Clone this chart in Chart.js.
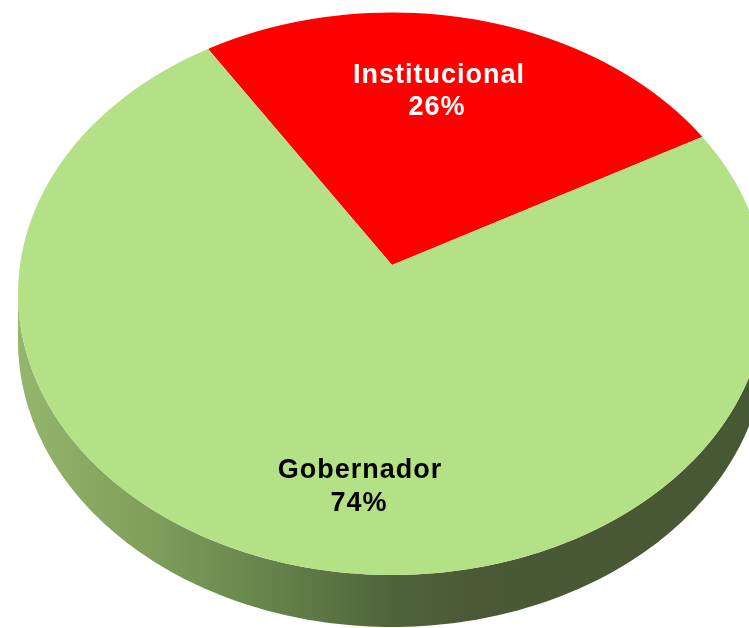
<!DOCTYPE html>
<html>
<head>
<meta charset="utf-8">
<script src="https://cdn.jsdelivr.net/npm/chart.js@4"></script>
<style>
  html, body { margin: 0; padding: 0; background: #ffffff; overflow: hidden; }
  canvas { display: block; }
</style>
</head>
<body>
<canvas id="c" width="749" height="628"></canvas>
<script>
// ---- data ----
const categories = ['Institucional', 'Gobernador'];
const values = [26, 74];
const pctLabels = ['26%', '74%'];

// ---- styles ----
const sliceColors = ['#ff0000', '#b5e186'];
const labelColors = ['#ffffff', '#000000'];

// perspective projection of the pie disc (screen px)
const PX = 392;      // screen x of pie centre
const PY = 265;      // screen y of pie centre
const HW = 372;      // horizontal radius at centre line
const VB = 278.3;    // vertical factor
const PERSP = 0.1022; // perspective strength
const DEPTH0 = 46.7; // side thickness at centre line

function proj(u, v) { // u,v in unit-circle coords (v>0 = near)
  const w = 1 - PERSP * v;
  return [PX + HW * u / w, PY + VB * v / w];
}
function invY(Y) { const d = Y - PY; return d / (VB + PERSP * d); }

function sideFill(ctx, i) {
  const g = ctx.createLinearGradient(PX - HW, 0, PX + HW, 0);
  if (i === 1) {
    g.addColorStop(0, '#94b66c');
    g.addColorStop(0.18, '#7e9e5a');
    g.addColorStop(0.35, '#65804a');
    g.addColorStop(0.5, '#4f643a');
    g.addColorStop(0.62, '#4a5835');
    g.addColorStop(1, '#475834');
  } else {
    g.addColorStop(0, '#c00000');
    g.addColorStop(1, '#800000');
  }
  return g;
}

const pie3d = {
  id: 'pie3d',
  beforeDatasetsDraw(chart) {
    const ctx = chart.ctx;
    const meta = chart.getDatasetMeta(0);
    const a0 = meta.data[0];
    const cx = a0.x, cy = a0.y, R = a0.outerRadius;
    const TAU = Math.PI * 2;
    const t1 = Math.asin(PERSP), t2 = Math.PI - Math.asin(PERSP);
    // side walls (visible near part of the rim)
    meta.data.forEach((arc, i) => {
      let s = arc.startAngle, e = arc.endAngle;
      const off = Math.floor(s / TAU) * TAU;
      s -= off; e -= off;
      [[t1, t2], [TAU + t1, TAU + t2]].forEach(([lo, hi]) => {
        const a = Math.max(s, lo), b = Math.min(e, hi);
        if (b <= a) return;
        const n = 160;
        const top = [], bot = [];
        for (let k = 0; k <= n; k++) {
          const t = a + (b - a) * k / n;
          const u = Math.cos(t), v = Math.sin(t);
          const p = proj(u, v);
          top.push(p);
          bot.push([p[0], p[1] + DEPTH0 / (1 - PERSP * v)]);
        }
        ctx.save();
        ctx.beginPath();
        top.forEach((p, k) => k ? ctx.lineTo(p[0], p[1]) : ctx.moveTo(p[0], p[1]));
        for (let k = n; k >= 0; k--) ctx.lineTo(bot[k][0], bot[k][1]);
        ctx.closePath();
        ctx.fillStyle = sideFill(ctx, i);
        ctx.fill();
        ctx.restore();
      });
    });
    // top face, drawn in thin horizontal strips, each with its own affine map
    const Ytop = Math.floor(proj(0, -1)[1]) - 1;
    const Ybot = Math.ceil(proj(0, 1)[1]) + 1;
    const STEP = 2;
    for (let Y0 = Ytop; Y0 < Ybot; Y0 += STEP) {
      const Y1 = Y0 + STEP;
      const Ym = (Y0 + Y1) / 2;
      const vm = invY(Ym);
      const w = 1 - PERSP * vm;
      const kx = HW / w / R;
      const ky = VB / (w * w) / R;
      const ym = cy + vm * R;
      ctx.save();
      ctx.beginPath();
      ctx.rect(0, Y0, chart.width, STEP);
      ctx.clip();
      ctx.setTransform(kx, 0, 0, ky, PX - kx * cx, Ym - ky * ym);
      meta.data.forEach(arc => arc.draw(ctx));
      ctx.restore();
    }
    return false;
  },
  afterDraw(chart) {
    const ctx = chart.ctx;
    const pos = [[[439, 76], [437, 108]], [[360, 471], [359, 504]]];
    ctx.save();
    ctx.font = 'bold 27px "Liberation Sans", Arial, sans-serif';
    ctx.letterSpacing = '1px';
    ctx.textAlign = 'center';
    ctx.textBaseline = 'middle';
    categories.forEach((c, i) => {
      ctx.fillStyle = labelColors[i];
      ctx.fillText(c, pos[i][0][0], pos[i][0][1]);
      ctx.fillText(pctLabels[i], pos[i][1][0], pos[i][1][1]);
    });
    ctx.restore();
  }
};

new Chart(document.getElementById('c'), {
  type: 'pie',
  data: {
    labels: categories,
    datasets: [{
      data: values,
      backgroundColor: sliceColors,
      borderWidth: 0,
      hoverOffset: 0,
      clip: false
    }]
  },
  options: {
    responsive: false,
    animation: false,
    rotation: -32.5,
    events: [],
    plugins: { legend: { display: false }, tooltip: { enabled: false } }
  },
  plugins: [pie3d]
});
</script>
</body>
</html>
